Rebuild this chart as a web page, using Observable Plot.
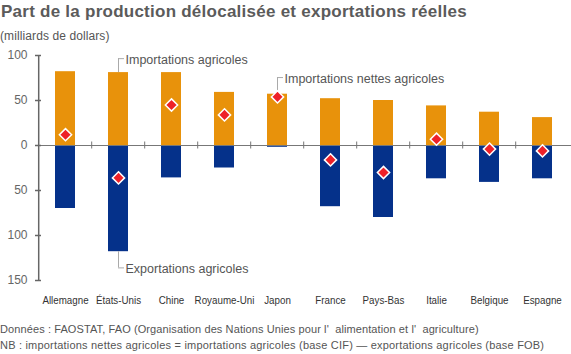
<!DOCTYPE html>
<html><head><meta charset="utf-8">
<script src="https://cdn.jsdelivr.net/npm/d3@7"></script>
<script src="https://cdn.jsdelivr.net/npm/@observablehq/plot@0.6"></script>
<style>
body{margin:0;background:#fff;}
#wrap{position:relative;width:571px;height:354px;overflow:hidden;font-family:"Liberation Sans",Arial,Helvetica,sans-serif;color:#555;}
.t{position:absolute;left:0;white-space:pre;line-height:1;}
#title{top:3px;left:1px;font-size:17px;font-weight:bold;color:#5b5b5b;letter-spacing:0.25px;}
#sub{top:30px;font-size:12px;letter-spacing:0.1px;}
#chart{position:absolute;left:0;top:45px;}
#f1{top:324px;font-size:11px;letter-spacing:0.1px;}
#f2{top:340px;font-size:11px;letter-spacing:0.2px;}
</style></head>
<body>
<div id="wrap">
  <div class="t" id="title">Part de la production délocalisée et exportations réelles</div>
  <div class="t" id="sub">(milliards de dollars)</div>
  <div id="chart"></div>
  <div class="t" id="f1">Données : FAOSTAT, FAO (Organisation des Nations Unies pour l'  alimentation et l'  agriculture)</div>
  <div class="t" id="f2">NB : importations nettes agricoles = importations agricoles (base CIF) — exportations agricoles (base FOB)</div>
</div>
<script>
const countries = ["Allemagne","États-Unis","Chine","Royaume-Uni","Japon","France","Pays-Bas","Italie","Belgique","Espagne"];
const imports = [82, 81, 81, 59, 57, 52, 50, 44, 37, 31];
const exports = [70, 118, 36, 25, 2, 68, 80, 37, 41, 37];
const net = [12, -36, 45, 34, 54, -16, -30, 7, -4, -6];
const yTicks = [100, 50, 0, -50, -100, -150];
const annLabels = ["Importations agricoles", "Exportations agricoles", "Importations nettes agricoles"];
const annCountries = ["États-Unis", "États-Unis", "Japon"];
const annFrom = [81, -118, 54];
const annTo = [96.5, -136, 75.5];

const rows = countries.map((c, i) => ({country: c, imports: imports[i], exports: exports[i], net: net[i]}));
const anns = annLabels.map((l, i) => ({label: l, country: annCountries[i], y1: annFrom[i], y2: annTo[i]}));

const W = 571, H = 270, mL = 35, mR = 0, mT = 10, mB = 35;
const padIn = 0.627;
const step = (W - mL - mR) / countries.length;
const bw = step * (1 - padIn);
const grey = "#777";

const plot = Plot.plot({
  width: W, height: H, marginTop: mT, marginBottom: mB, marginLeft: mL, marginRight: mR,
  style: {fontFamily: '"Liberation Sans", Arial, sans-serif', fontSize: "12px", color: "#555", background: "transparent", overflow: "visible"},
  x: {domain: countries, paddingInner: padIn, paddingOuter: padIn / 2, align: 0.5},
  y: {domain: [yTicks[yTicks.length - 1], yTicks[0]]},
  marks: [
    Plot.barY(rows, {x: "country", y: "imports", fill: "#E8920B"}),
    Plot.barY(rows, {x: "country", y: d => -d.exports, fill: "#05318A"}),
    Plot.ruleY([0], {stroke: grey, strokeWidth: 1}),
    Plot.ruleX(countries.slice(1), {x: d => d, dx: -step / 2, y1: d => 0, y2: d => 0, insetTop: -3.5, insetBottom: -3.5, stroke: grey}),
    Plot.ruleX([countries[0]], {x: d => d, dx: -step / 2, y1: d => yTicks[yTicks.length - 1], y2: d => yTicks[0], stroke: "#666", strokeWidth: 1.5}),
    Plot.ruleX(anns, {x: "country", y1: "y1", y2: "y2", stroke: "#aaa"}),
    Plot.tickY(anns, {x: "country", y: "y2", stroke: "#aaa", insetLeft: bw / 2, insetRight: bw / 2 - 6}),
    Plot.text(anns, {x: "country", y: "y2", text: "label", textAnchor: "start", dx: 7, dy: 1, fill: "#555", fontSize: 12.5}),
    Plot.dot(rows, {x: "country", y: "net", symbol: "diamond2", r: 5.5, fill: "#EE2128", stroke: "white", strokeWidth: 1.5}),
    Plot.axisY(yTicks, {tickFormat: d => Math.abs(d), tickSize: -6, tickPadding: 14, color: "#666", strokeWidth: 1.5, fontSize: 12, label: null}),
    Plot.axisX({tickSize: 0, tickPadding: 15.5, fontSize: 11.5, color: "#333", label: null})
  ]
});
document.getElementById("chart").appendChild(plot);
// condensed look for the country labels
d3.select(plot).selectAll('g[aria-label="x-axis tick label"] text').each(function () {
  const w = this.getComputedTextLength();
  this.setAttribute("textLength", w * 0.85);
  this.setAttribute("lengthAdjust", "spacingAndGlyphs");
});
</script>
</body></html>
